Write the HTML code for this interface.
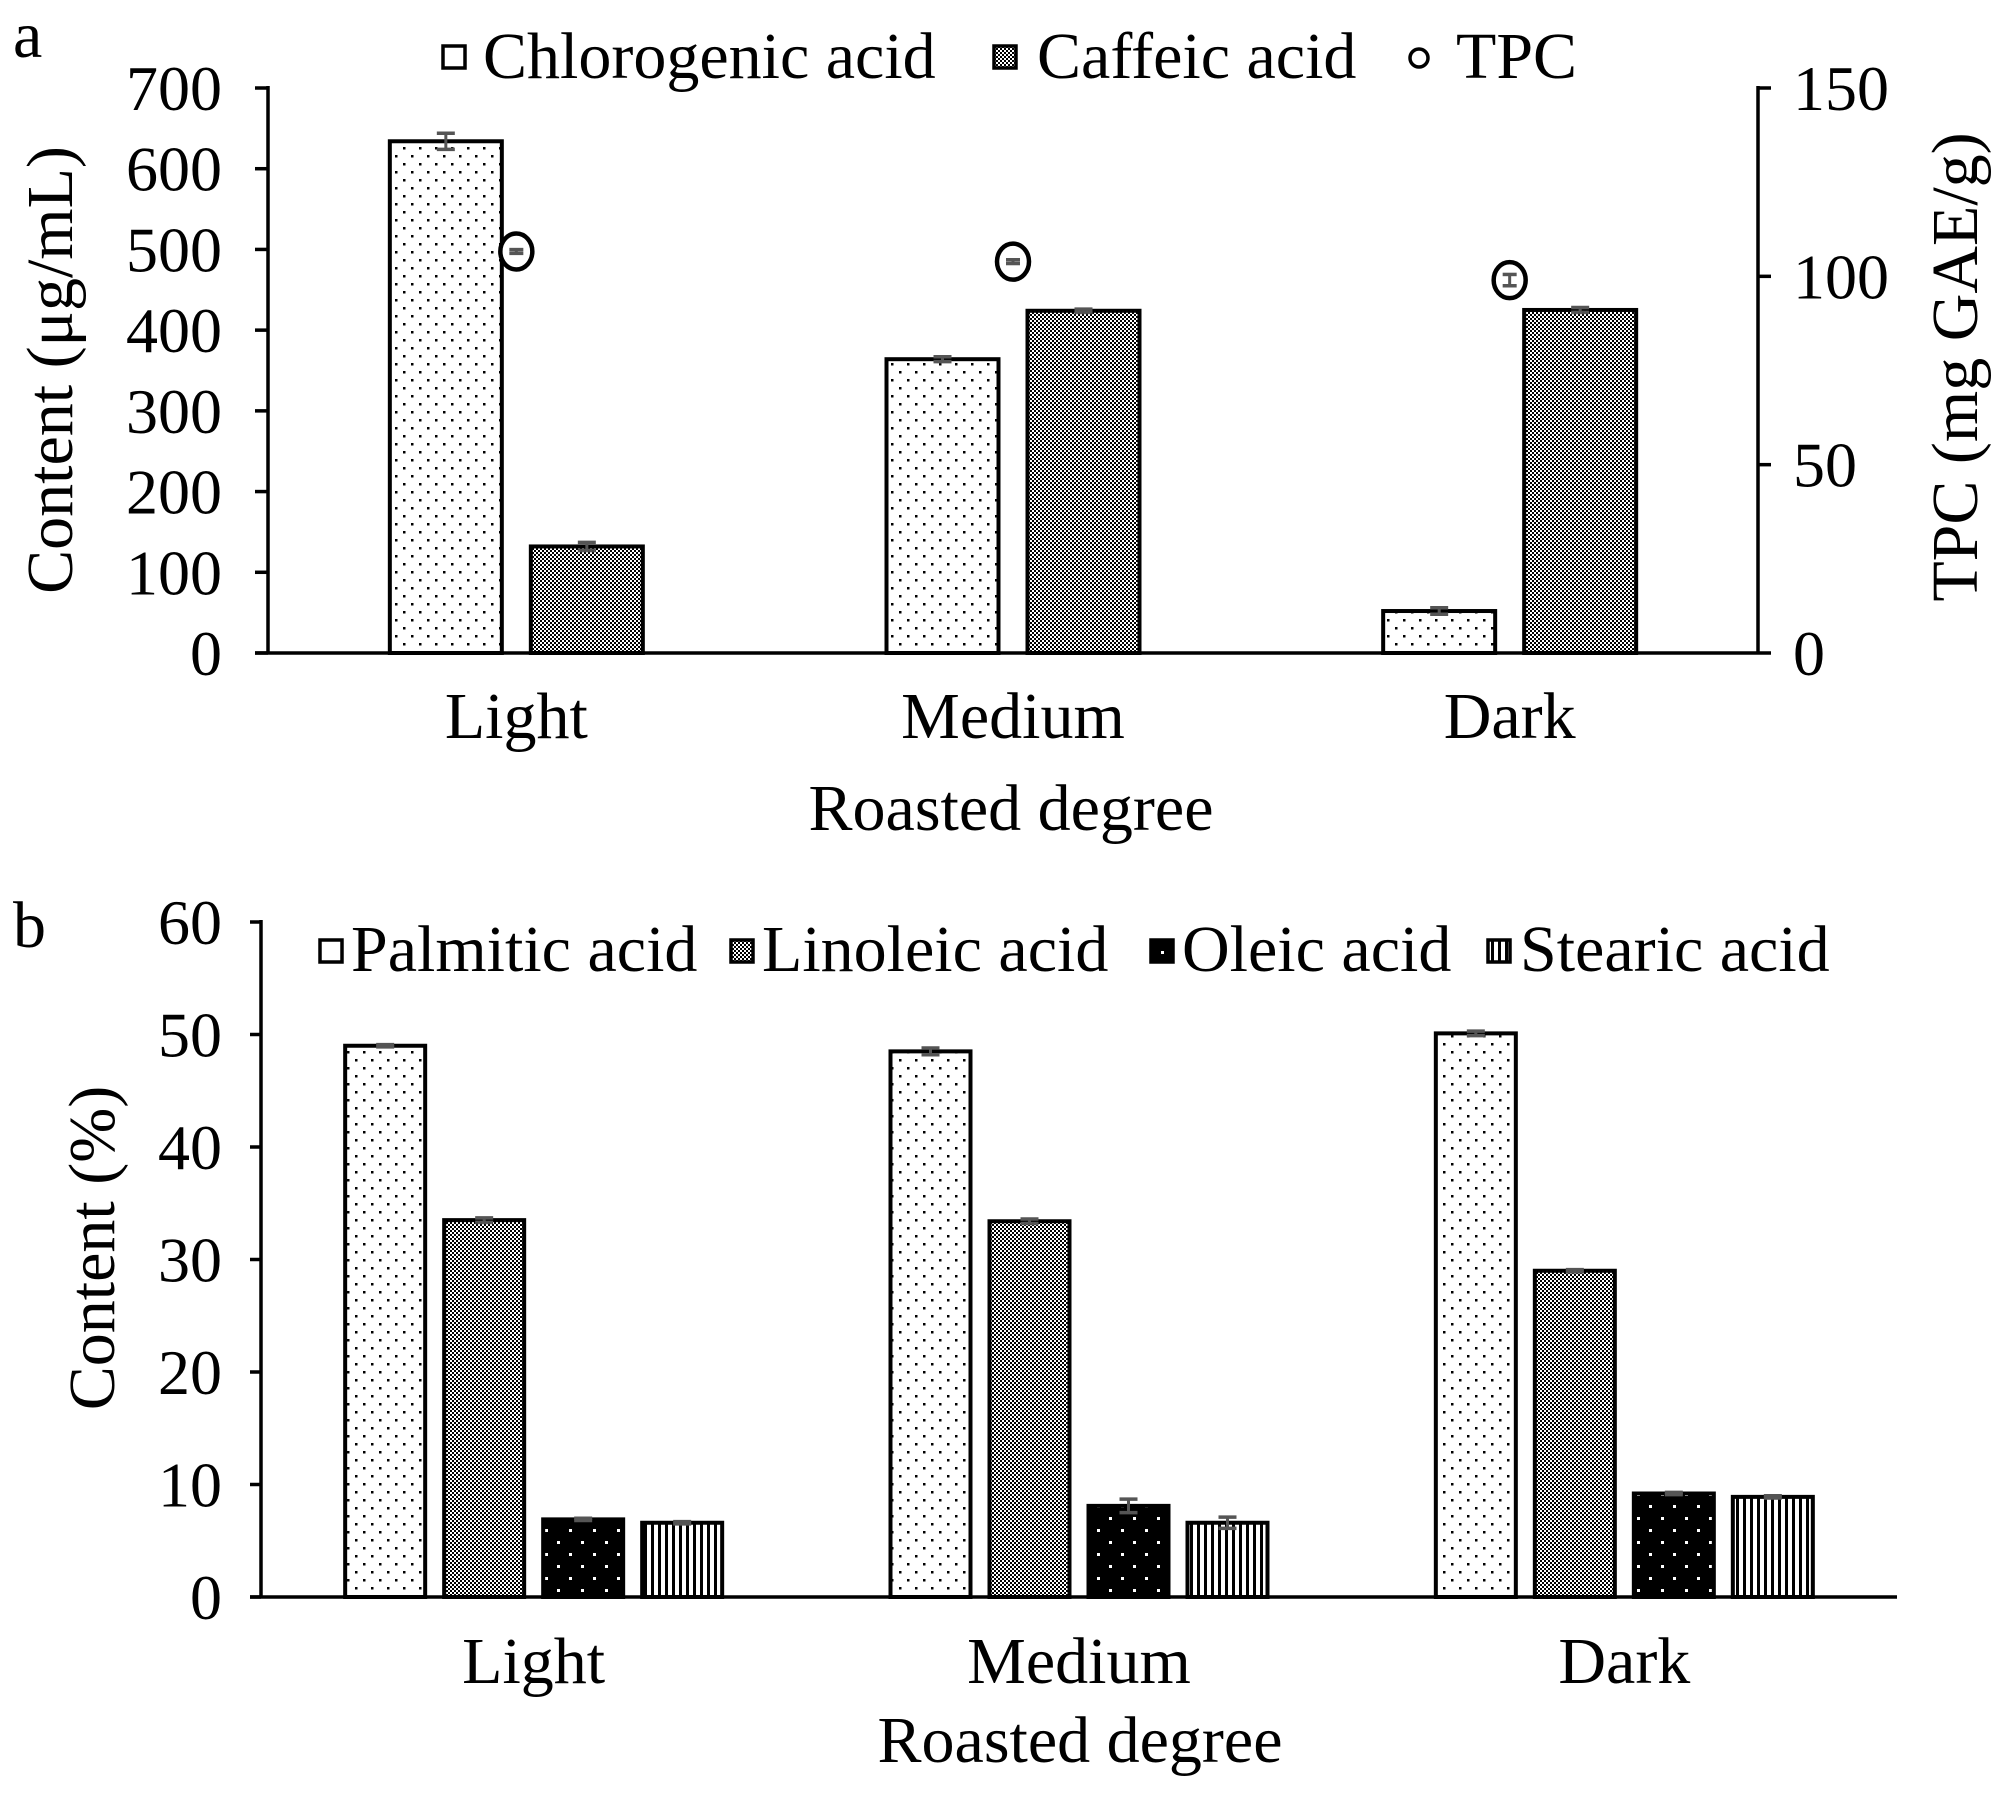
<!DOCTYPE html>
<html><head><meta charset="utf-8"><style>
html,body{margin:0;padding:0;background:#fff;}
svg{display:block;}
text{font-family:"Liberation Serif","Times New Roman",serif;fill:#000;}
</style></head><body>
<svg id="chart" width="2008" height="1795" viewBox="0 0 2008 1795" xmlns="http://www.w3.org/2000/svg">
<defs>
<pattern id="pDots" width="16" height="16" patternUnits="userSpaceOnUse"><rect width="16" height="16" fill="#fff"/><rect x="3" y="3" width="2.5" height="2.5" fill="#000"/><rect x="11" y="11" width="2.5" height="2.5" fill="#000"/></pattern>
<pattern id="pCheck" width="4" height="4" patternUnits="userSpaceOnUse"><rect width="4" height="4" fill="#fff"/><rect width="2" height="2" fill="#000"/><rect x="2" y="2" width="2" height="2" fill="#000"/></pattern>
<pattern id="pBlackDots" width="24" height="24" patternUnits="userSpaceOnUse"><rect width="24" height="24" fill="#000"/><rect x="5" y="5" width="3" height="3" fill="#fff"/><rect x="17" y="17" width="3" height="3" fill="#fff"/></pattern>
<pattern id="pStripes" width="7" height="7" patternUnits="userSpaceOnUse"><rect width="7" height="7" fill="#fff"/><rect width="3" height="7" fill="#000"/></pattern>
</defs>
<g id="gA"></g><g id="gB"></g>
</svg>
<script>
// ---- Chart a data ----
const catsA = ["Light","Medium","Dark"];
const chloro = [634, 364, 52];
const chloroErr = [10, 3, 4];
const caffeic = [132, 424, 425];
const caffeicErr = [5, 2, 3];
const tpc = [106.6, 103.9, 99.0];
const tpcErr = [0.5, 0.5, 1.5];
const ticksA = [0,100,200,300,400,500,600,700];
const ticksA2 = [0,50,100,150];
// ---- Chart b data ----
const catsB = ["Light","Medium","Dark"];
const palmitic = [49.0, 48.5, 50.1];
const palmiticErr = [0.1, 0.3, 0.2];
const linoleic = [33.5, 33.4, 29.0];
const linoleicErr = [0.2, 0.2, 0.1];
const oleic = [6.9, 8.1, 9.2];
const oleicErr = [0.1, 0.6, 0.1];
const stearic = [6.6, 6.6, 8.9];
const stearicErr = [0.1, 0.5, 0.1];
const ticksB = [0,10,20,30,40,50,60];

const NS="http://www.w3.org/2000/svg";
function mk(parent,tag,attrs,txt){const e=document.createElementNS(NS,tag);for(const k in attrs)e.setAttribute(k,attrs[k]);if(txt!==undefined)e.textContent=txt;parent.appendChild(e);return e;}

// ===== Chart a =====
const A=document.getElementById('gA');


const aX0=268,aX1=1758,aY0=653,aY1=88;
const yA=v=>aY0-(v/700)*(aY0-aY1);
const yA2=v=>aY0-(v/150)*(aY0-aY1);
const cwA=(aX1-aX0)/catsA.length;
const cxA=i=>aX0+cwA*(i+0.5);
let t;
t=mk(A,'text',{x:13,y:57,'font-size':66},'a');


let ln=mk(A,'line',{x1:aX0,y1:aY1-2,x2:aX0,y2:aY0,stroke:'#000','stroke-width':3.5});


ln=mk(A,'line',{x1:aX1,y1:aY1-2,x2:aX1,y2:aY0,stroke:'#000','stroke-width':3.5});


ticksA.forEach(v=>{
  mk(A,'line',{x1:255,y1:yA(v),x2:aX0,y2:yA(v),stroke:'#000','stroke-width':3.5});
  const tt=mk(A,'text',{x:222,y:yA(v)+22,'font-size':64,'text-anchor':'end'},String(v));
  
  
});
ticksA2.forEach(v=>{
  mk(A,'line',{x1:aX1,y1:yA2(v),x2:1771,y2:yA2(v),stroke:'#000','stroke-width':3.5});
  const tt=mk(A,'text',{x:1793,y:yA2(v)+22,'font-size':64},String(v));
  
  
});
function errBar(g,x,yTop,yBot,cap){
  const e=mk(g,'g',{});
  
  
  mk(e,'line',{x1:x,y1:yTop,x2:x,y2:yBot,stroke:'#555','stroke-width':3});
  mk(e,'line',{x1:x-cap,y1:yTop,x2:x+cap,y2:yTop,stroke:'#555','stroke-width':3.5});
  mk(e,'line',{x1:x-cap,y1:yBot,x2:x+cap,y2:yBot,stroke:'#555','stroke-width':3.5});
}
const bwA=112,gapA=29;
catsA.forEach((c,i)=>{
  const cx=cxA(i);
  const x1=cx-gapA/2-bwA, x2=cx+gapA/2;
  let r=mk(A,'rect',{x:x1,y:yA(chloro[i]),width:bwA,height:aY0-yA(chloro[i]),fill:'url(#pDots)',stroke:'#000','stroke-width':4});
  
  
  errBar(A,x1+bwA/2,yA(chloro[i]+chloroErr[i]),yA(chloro[i]-chloroErr[i]),9);
  r=mk(A,'rect',{x:x2,y:yA(caffeic[i]),width:bwA,height:aY0-yA(caffeic[i]),fill:'url(#pCheck)',stroke:'#000','stroke-width':4});
  
  
  errBar(A,x2+bwA/2,yA(caffeic[i]+caffeicErr[i]),yA(caffeic[i]-caffeicErr[i]),9);
  const pc=mk(A,'ellipse',{cx:cx,cy:yA2(tpc[i]),rx:16,ry:18,fill:'#fff',stroke:'#000','stroke-width':4.5});
  
  
  errBar(A,cx,yA2(tpc[i]+tpcErr[i]),yA2(tpc[i]-tpcErr[i]),7);
  const lt=mk(A,'text',{x:cx,y:738,'font-size':66,'text-anchor':'middle'},c);
  
  
});
ln=mk(A,'line',{x1:255,y1:aY0,x2:aX1,y2:aY0,stroke:'#000','stroke-width':3.5});


t=mk(A,'text',{x:1011,y:830,'font-size':66,'text-anchor':'middle'},'Roasted degree');


t=mk(A,'text',{x:0,y:0,'font-size':66,'text-anchor':'middle',transform:'translate(72,370) rotate(-90)'},'Content (μg/mL)');


t=mk(A,'text',{x:0,y:0,'font-size':66,'text-anchor':'middle',transform:'translate(1977,367) rotate(-90)'},'TPC (mg GAE/g)');


let lg=mk(A,'g',{});


let le=mk(lg,'g',{});


mk(le,'rect',{x:443,y:46,width:22,height:22,fill:'#fff',stroke:'#000','stroke-width':3.5});
mk(le,'text',{x:483,y:78,'font-size':66},'Chlorogenic acid');
le=mk(lg,'g',{});


mk(le,'rect',{x:994,y:46,width:22,height:22,fill:'url(#pCheck)',stroke:'#000','stroke-width':3.5});
mk(le,'text',{x:1037,y:78,'font-size':66},'Caffeic acid');
le=mk(lg,'g',{});


mk(le,'circle',{cx:1419,cy:58,r:9,fill:'#fff',stroke:'#000','stroke-width':3.5});
mk(le,'text',{x:1456,y:78,'font-size':66},'TPC');

// ===== Chart b =====
const B=document.getElementById('gB');


const bX0=261,bX1=1897,bY0=1597,bY1=922;
const yB=v=>bY0-(v/60)*(bY0-bY1);
const cwB=(bX1-bX0)/catsB.length;
const cxB=i=>bX0+cwB*(i+0.5);
t=mk(B,'text',{x:13,y:947,'font-size':66},'b');


ln=mk(B,'line',{x1:bX0,y1:bY1-2,x2:bX0,y2:bY0,stroke:'#000','stroke-width':3.5});


ticksB.forEach(v=>{
  mk(B,'line',{x1:250,y1:yB(v),x2:bX0,y2:yB(v),stroke:'#000','stroke-width':3.5});
  const tt=mk(B,'text',{x:222,y:yB(v)+22,'font-size':64,'text-anchor':'end'},String(v));
  
  
});
const seriesB=[[palmitic,palmiticErr,'url(#pDots)','palmitic'],[linoleic,linoleicErr,'url(#pCheck)','linoleic'],[oleic,oleicErr,'url(#pBlackDots)','oleic'],[stearic,stearicErr,'url(#pStripes)','stearic']];
const bwB=80,pitchB=99;
catsB.forEach((c,i)=>{
  const cx=cxB(i);
  seriesB.forEach((s,k)=>{
    const x=cx+(k-1.5)*pitchB-bwB/2;
    const v=s[0][i];
    const r=mk(B,'rect',{x:x,y:yB(v),width:bwB,height:bY0-yB(v),fill:s[2],stroke:'#000','stroke-width':4});
    
    
    errBar(B,x+bwB/2,yB(v+s[1][i]),yB(v-s[1][i]),9);
  });
  const lt=mk(B,'text',{x:cx,y:1683,'font-size':66,'text-anchor':'middle'},c);
  
  
});
ln=mk(B,'line',{x1:250,y1:bY0,x2:bX1,y2:bY0,stroke:'#000','stroke-width':3.5});


t=mk(B,'text',{x:1080,y:1762,'font-size':66,'text-anchor':'middle'},'Roasted degree');


t=mk(B,'text',{x:0,y:0,'font-size':66,'text-anchor':'middle',transform:'translate(114,1248) rotate(-90)'},'Content (%)');


lg=mk(B,'g',{});


const legB=[[320,351,'url(#pDots)','Palmitic acid','palmitic'],[731,762,'url(#pCheck)','Linoleic acid','linoleic'],[1151,1182,'#000','Oleic acid','oleic'],[1488,1520,'url(#pStripes)','Stearic acid','stearic']];
legB.forEach(L=>{
  const e=mk(lg,'g',{});
  
  
  mk(e,'rect',{x:L[0],y:940,width:22,height:22,fill:L[2]==='url(#pDots)'?'#fff':L[2],stroke:'#000','stroke-width':3.5});
  if(L[4]==='oleic') mk(e,'rect',{x:L[0]+10,y:951,width:3,height:3,fill:'#fff'});
  mk(e,'text',{x:L[1],y:971,'font-size':66},L[3]);
});
</script>
</body></html>
